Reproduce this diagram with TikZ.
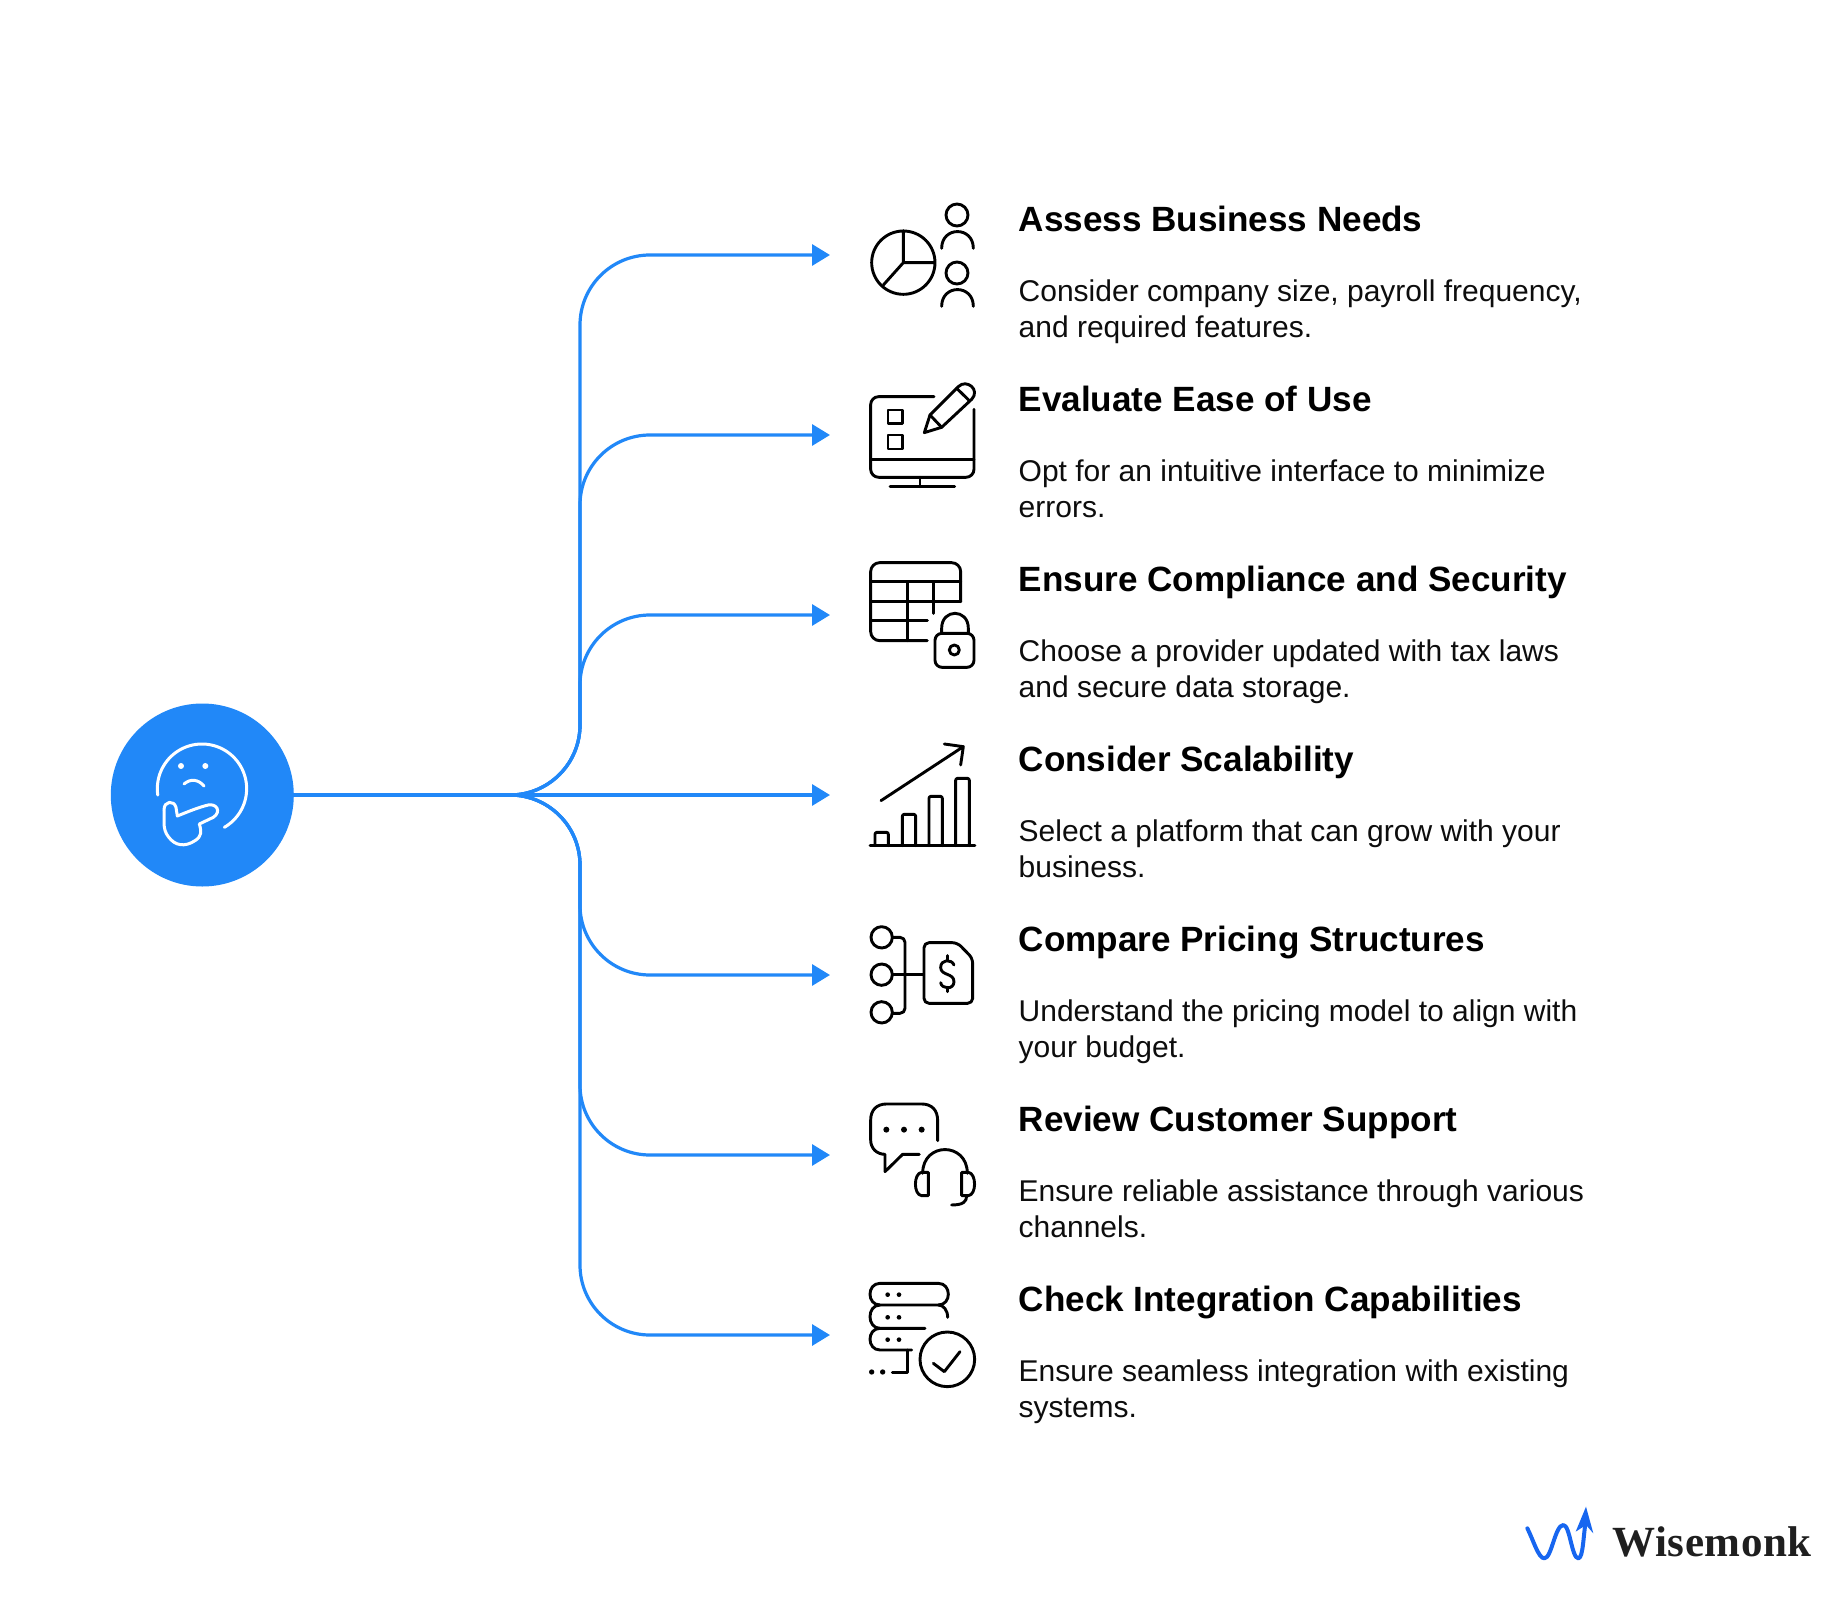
\documentclass[tikz,border=0pt]{standalone}
\usepackage{fontspec}
\setmainfont{Liberation Sans}
\newfontfamily\logofont{Liberation Serif}
\usetikzlibrary{arrows.meta}
\definecolor{wmblue}{HTML}{2188F8}
\definecolor{logoblue}{HTML}{1766F0}
\tikzset{
  conn/.style={draw=wmblue,line width=3.2pt,rounded corners=70pt,-{Triangle[length=18pt,width=21pt]}},
  ic/.style={draw=black,line width=2.9pt,line cap=round,line join=round},
  icw/.style={draw=white,line width=3pt,line cap=round,line join=round},
  titletxt/.style={anchor=base west,inner sep=0pt,font=\fontsize{35.1}{36}\selectfont\bfseries,text=black},
  bodytxt/.style={anchor=base west,inner sep=0pt,align=left,font=\fontsize{30}{36}\selectfont,text=black!95},
}
\begin{document}
\begin{tikzpicture}[x=1pt,y=-1pt]
\useasboundingbox (0,0) rectangle (1823,1600);
\fill[white] (0,0) rectangle (1823,1600);
% root
\node[circle,fill=wmblue,minimum size=183pt,inner sep=0pt] (root) at (202.3,795) {};
\coordinate (j) at (510,795);
\coordinate (trunk) at (580,795);
\coordinate (t1) at (830,255);
\coordinate (t2) at (830,435);
\coordinate (t3) at (830,615);
\coordinate (t4) at (830,795);
\coordinate (t5) at (830,975);
\coordinate (t6) at (830,1155);
\coordinate (t7) at (830,1335);
\draw[draw=wmblue,line width=3.2pt] (root.east) -- (j);
\foreach \k in {1,2,3,5,6,7}{
  \draw[conn] (j) -- (trunk) -- (trunk |- t\k) -- (t\k);
}
\draw[conn] (j) -- (t4);
% root icon
\begin{scope}[shift={(100,690)},x=.3333pt,y=-.3333pt]
\draw[icw] plot[domain=171.7:420,samples=70,variable=\t] ({306+134*cos(\t)},{296+134*sin(\t)});
\fill[white] (243,228) circle (9) (316,228) circle (9);
\draw[icw] (252,282) .. controls (272,265) and (295,268) .. (312,288);
\draw[icw] (232,378) .. controls (262,366) and (295,352) .. (325,345) .. controls (350,340) and (365,365) .. (340,382) -- (298,402) .. controls (305,425) and (305,440) .. (285,452) .. controls (255,472) and (225,468) .. (205,440) .. controls (185,415) and (195,385) .. (192,360) .. controls (192,332) and (222,330) .. (228,352) -- cycle;
\end{scope}
% icon 1 and 2
\begin{scope}[shift={(850,190)},x=.3333pt,y=-.3333pt]
\draw[ic] (160,218) circle (95);
\draw[ic] (160,122) -- (160,218) -- (252,218) (160,218) -- (100,285);
\draw[ic] (321,75) circle (33);
\draw[ic] (275,175) .. controls (275,108) and (370,108) .. (370,175);
\draw[ic] (321,249) circle (33);
\draw[ic] (275,349) .. controls (275,282) and (370,282) .. (370,349);
\draw[ic,rounded corners=8pt] (252,620) -- (62,620) -- (62,862) -- (372,862) -- (372,658);
\draw[ic] (62,808) -- (372,808);
\draw[ic] (210,862) -- (210,890) (120,890) -- (314,890);
\draw[ic] (114,660) rectangle (158,700);
\draw[ic] (114,735) rectangle (158,777);
\draw[ic] (223,728) -- (240,675) -- (325,590) .. controls (350,565) and (392,600) .. (365,628) -- (275,712) -- cycle;
\draw[ic] (240,675) -- (275,712) (320,595) -- (358,632);
\end{scope}
% icon 3 and 4
\begin{scope}[shift={(850,550)},x=.3333pt,y=-.3333pt]
\draw[ic,rounded corners=9pt] (232,272) -- (62,272) -- (62,38) -- (332,38) -- (332,155);
\draw[ic] (62,95) -- (332,95) (62,155) -- (332,155) (62,212) -- (232,212);
\draw[ic] (172,95) -- (172,272) (250,95) -- (250,190);
\draw[ic,rounded corners=7pt] (255,250) rectangle (372,352);
\draw[ic] (275,250) -- (275,235) .. controls (275,175) and (355,175) .. (355,235) -- (355,250);
\draw[ic] (313,300) circle (15);
\draw[ic] (60,887) -- (375,887);
\draw[ic,rounded corners=2pt] (75,887) -- (75,847) -- (115,847) -- (115,887);
\draw[ic,rounded corners=2pt] (157,887) -- (157,793) -- (197,793) -- (197,887);
\draw[ic,rounded corners=2pt] (237,887) -- (237,739) -- (277,739) -- (277,887);
\draw[ic,rounded corners=2pt] (317,887) -- (317,685) -- (358,685) -- (358,887);
\draw[ic] (93,752) -- (340,590) (283,582) -- (340,590) -- (332,645);
\end{scope}
% icon 5 and 6
\begin{scope}[shift={(850,910)},x=.3333pt,y=-.3333pt]
\draw[ic] (95,82) circle (32) (95,194) circle (32) (95,307) circle (32);
\draw[ic,rounded corners=5pt] (127,82) -- (165,82) -- (165,310) -- (127,310);
\draw[ic] (127,194) -- (220,194);
\draw[ic,rounded corners=5pt] (222,190) -- (222,98) -- (322,98) -- (368,145) -- (368,280) -- (222,280) -- (222,190);
\draw[ic] (312,165) .. controls (305,146) and (272,148) .. (272,172) .. controls (272,198) and (312,188) .. (312,215) .. controls (312,240) and (275,238) .. (272,218);
\draw[ic] (292,137) -- (292,150) (292,232) -- (292,245);
\draw[ic] (263,692) -- (263,632) .. controls (263,600) and (245,582) .. (215,582) -- (110,582) .. controls (80,582) and (62,600) .. (62,630) -- (62,690) .. controls (62,715) and (80,733) .. (105,733) -- (105,785) -- (158,733) -- (208,733);
\fill[black] (109,659) circle (9) (162,659) circle (9) (215,659) circle (9);
\draw[ic] (218,790) .. controls (218,695) and (352,695) .. (352,790);
\draw[ic] (235,787) -- (215,787) .. controls (190,790) and (190,855) .. (215,857) -- (235,857) -- cycle;
\draw[ic] (335,787) -- (355,787) .. controls (380,790) and (380,855) .. (355,857) -- (335,857) -- cycle;
\draw[ic] (350,857) .. controls (350,875) and (340,885) .. (305,885);
\end{scope}
% icon 7
\begin{scope}[shift={(850,1260)},x=.3333pt,y=-.3333pt]
\draw[ic] (90,70) -- (265,70) .. controls (305,70) and (305,135) .. (265,135) -- (90,135) .. controls (50,135) and (50,70) .. (90,70) -- cycle;
\draw[ic] (90,135) .. controls (50,135) and (50,205) .. (90,205) -- (225,205);
\draw[ic] (265,135) .. controls (280,135) and (293,150) .. (293,172);
\draw[ic] (90,205) .. controls (50,205) and (50,270) .. (90,270) -- (185,270);
\draw[ic] (172,270) -- (172,338) -- (127,338);
\fill[black] (113,104) circle (7) (147,104) circle (7) (113,172) circle (7) (147,172) circle (7) (113,239) circle (7) (147,239) circle (7) (65,336) circle (8) (98,336) circle (8);
\draw[ic] (292,298) circle (82);
\draw[ic] (250,310) -- (283,335) -- (330,275);
\end{scope}
% texts
\node[titletxt] (h1) at (1018.5,231) {Assess Business Needs};
\node[bodytxt] (b1) at (1018.5,337) {Consider company size, payroll frequency,\\and required features.};
\node[titletxt] (h2) at (1018.5,411) {Evaluate Ease of Use};
\node[bodytxt] (b2) at (1018.5,517) {Opt for an intuitive interface to minimize\\errors.};
\node[titletxt] (h3) at (1018.5,591) {Ensure Compliance and Security};
\node[bodytxt] (b3) at (1018.5,697) {Choose a provider updated with tax laws\\and secure data storage.};
\node[titletxt] (h4) at (1018.5,771) {Consider Scalability};
\node[bodytxt] (b4) at (1018.5,877) {Select a platform that can grow with your\\business.};
\node[titletxt] (h5) at (1018.5,951) {Compare Pricing Structures};
\node[bodytxt] (b5) at (1018.5,1057) {Understand the pricing model to align with\\your budget.};
\node[titletxt] (h6) at (1018.5,1131) {Review Customer Support};
\node[bodytxt] (b6) at (1018.5,1237) {Ensure reliable assistance through various\\channels.};
\node[titletxt] (h7) at (1018.5,1311) {Check Integration Capabilities};
\node[bodytxt] (b7) at (1018.5,1417) {Ensure seamless integration with existing\\systems.};
% logo
\begin{scope}[shift={(1510,1490)},x=.3333pt,y=-.3333pt]
\draw[logoblue,line width=4pt,line cap=round,line join=round] (52,115) .. controls (70,150) and (85,205) .. (103,205) .. controls (125,205) and (135,105) .. (160,105) .. controls (180,105) and (185,205) .. (205,205) .. controls (220,205) and (220,130) .. (228,90);
\fill[logoblue] (228,50) -- (197,125) -- (228,105) -- (250,130) -- cycle;
\end{scope}
\node[anchor=base west,inner sep=0pt,font=\logofont\fontsize{43}{43}\selectfont\bfseries\addfontfeature{LetterSpace=1.5},text=black!88] (logo) at (1612,1556) {Wisemonk};
\end{tikzpicture}
\end{document}
